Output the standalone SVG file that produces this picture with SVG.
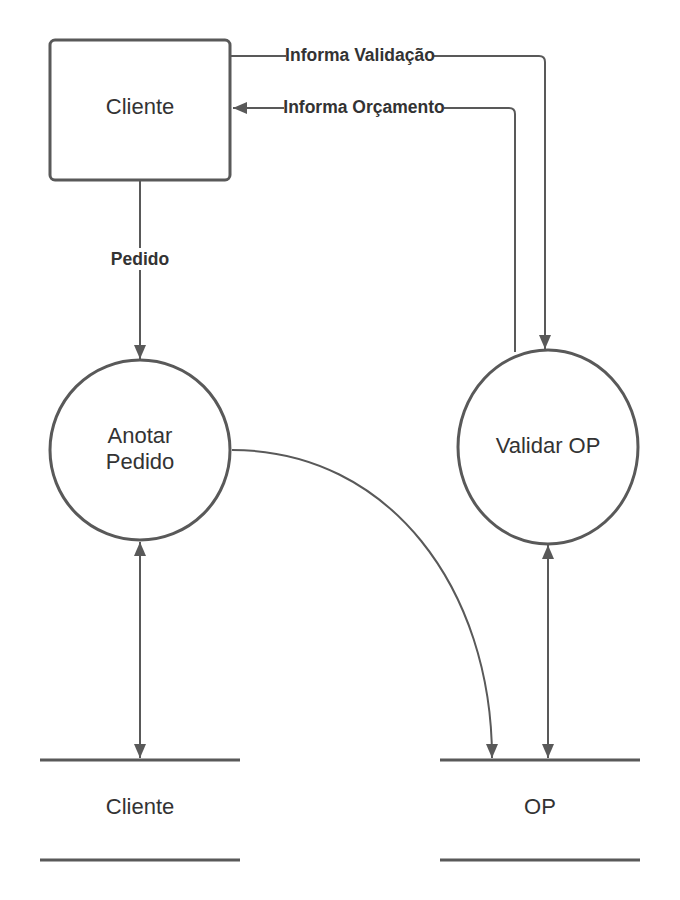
<svg xmlns="http://www.w3.org/2000/svg" width="680" height="900" viewBox="0 0 680 900">
<defs>
<style>
.shape{fill:#fff;stroke:#595959;stroke-width:3}
.store{stroke:#595959;stroke-width:3}
.conn{fill:none;stroke:#595959;stroke-width:2}
.t{font-family:"Liberation Sans",Arial,sans-serif;font-size:22px;fill:#333;text-anchor:middle}
.lbl{font-family:"Liberation Sans",Arial,sans-serif;font-size:17.5px;font-weight:bold;fill:#333;text-anchor:middle}
.bg{fill:#fff}
</style>
<marker id="ah" viewBox="0 0 14 12" refX="14" refY="6" markerWidth="14" markerHeight="12" markerUnits="userSpaceOnUse" orient="auto-start-reverse">
<path d="M0,0 L14,6 L0,12 z" fill="#595959"/>
</marker>
</defs>
<rect width="680" height="900" fill="#fff"/>
<g id="connectors">
<path class="conn" d="M140,181 L140,359" marker-end="url(#ah)"/>
<path class="conn" d="M231,56 L539,56 Q545,56 545,62 L545,349" marker-end="url(#ah)"/>
<path class="conn" d="M515,352 L515,114 Q515,108 509,108 L233,108" marker-end="url(#ah)"/>
<path class="conn" d="M140,542 L140,758" marker-start="url(#ah)" marker-end="url(#ah)"/>
<path class="conn" d="M548,545 L548,758" marker-start="url(#ah)" marker-end="url(#ah)"/>
<path class="conn" d="M232,450 C390,450 492,590 492,758" marker-end="url(#ah)"/>
<rect class="bg" x="110" y="248" width="60" height="22"/>
<text class="lbl" x="140" y="265">Pedido</text>
<rect class="bg" x="286" y="45" width="148" height="20"/>
<text class="lbl" x="360" y="61">Informa Validação</text>
<rect class="bg" x="284" y="97" width="160" height="20"/>
<text class="lbl" x="364" y="113">Informa Orçamento</text>
</g>
<g id="cliente">
<rect class="shape" x="50" y="40" width="180" height="140" rx="5"/>
<text class="t" x="140" y="114">Cliente</text>
</g>
<g id="anotar-pedido">
<circle class="shape" cx="140" cy="450" r="90"/>
<text class="t" x="140" y="443">Anotar</text>
<text class="t" x="140" y="469">Pedido</text>
</g>
<g id="validar-op">
<ellipse class="shape" cx="548" cy="447" rx="90" ry="97"/>
<text class="t" x="548" y="453">Validar OP</text>
</g>
<g id="store-cliente">
<line class="store" x1="40" y1="760" x2="240" y2="760"/>
<line class="store" x1="40" y1="860" x2="240" y2="860"/>
<text class="t" x="140" y="814">Cliente</text>
</g>
<g id="store-op">
<line class="store" x1="440" y1="760" x2="640" y2="760"/>
<line class="store" x1="440" y1="860" x2="640" y2="860"/>
<text class="t" x="540" y="814">OP</text>
</g>
</svg>
